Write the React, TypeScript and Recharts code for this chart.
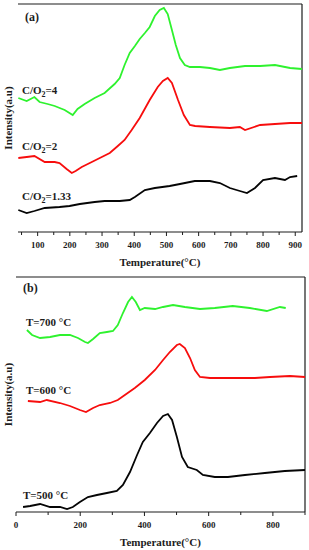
import { LineChart, Line, XAxis, YAxis, ReferenceLine } from 'recharts'

const FONT = '"Liberation Serif", "Times New Roman", Times, serif'
const INK = '#1c1c1c'
const GREEN = '#2ef22e'
const RED = '#f70d0d'
const BLACK = '#050505'

// panel (a): C/O2 ratio series
const ticksA = [50, 100, 150, 200, 250, 300, 350, 400, 450, 500, 550, 600, 650, 700, 750, 800, 850, 900]

const greenAT = [40, 66, 90, 106, 131, 153, 184, 209, 224, 246, 277, 308, 339, 355, 370, 386, 402, 417, 433, 448, 464, 479, 492, 504, 517, 529, 542, 557, 573, 604, 635, 666, 697, 744, 791, 837, 884, 921]
const greenAV = [134, 131, 135, 130, 128, 126, 122, 117, 123, 128, 134, 139, 148, 154, 167, 179, 186, 193, 199, 205, 216, 222, 224, 218, 202, 187, 174, 167, 165, 165, 164, 162, 164, 166, 166, 167, 164, 163]

const redAT = [40, 66, 90, 122, 153, 168, 190, 206, 218, 237, 262, 293, 324, 349, 370, 392, 417, 448, 473, 489, 504, 517, 536, 554, 573, 589, 635, 697, 728, 744, 791, 837, 884, 921]
const redAV = [74, 75, 76, 70, 70, 69, 63, 59, 61, 65, 69, 74, 79, 86, 92, 102, 114, 132, 145, 151, 154, 149, 132, 117, 107, 106, 105, 104, 105, 102, 107, 108, 109, 109]

const blackAT = [40, 66, 90, 122, 168, 199, 231, 277, 308, 355, 386, 402, 433, 464, 510, 542, 588, 635, 666, 697, 728, 750, 775, 800, 837, 868, 884, 906]
const blackAV = [22, 19, 21, 24, 25, 26, 28, 30, 31, 31, 32, 35, 42, 44, 46, 48, 51, 51, 49, 44, 41, 39, 44, 52, 54, 52, 55, 56]

// panel (b): reduction temperature series
const ticksB = [0, 100, 200, 300, 400, 500, 600, 700, 800, 900]

const greenBT = [34, 50, 75, 106, 137, 168, 193, 215, 224, 240, 261, 283, 302, 317, 333, 349, 361, 373, 386, 401, 433, 458, 489, 526, 573, 619, 675, 728, 781, 822, 840]
const greenBV = [182, 177, 174, 175, 177, 177, 174, 170, 169, 173, 179, 180, 181, 187, 199, 210, 215, 210, 202, 204, 203, 205, 207, 205, 203, 204, 206, 204, 201, 205, 204]

const redBT = [37, 75, 96, 137, 168, 199, 218, 240, 261, 293, 317, 339, 370, 401, 433, 458, 479, 501, 510, 526, 542, 557, 573, 604, 666, 744, 791, 853, 900]
const redBV = [111, 110, 112, 109, 106, 102, 100, 104, 107, 109, 112, 117, 124, 132, 142, 152, 160, 167, 168, 164, 154, 142, 135, 134, 134, 134, 135, 136, 135]

const blackBT = [22, 44, 75, 106, 137, 159, 177, 199, 224, 252, 283, 314, 333, 355, 377, 395, 417, 439, 458, 473, 486, 501, 517, 535, 563, 582, 619, 660, 713, 775, 837, 900]
const blackBV = [5, 6, 8, 5, 5, 3, 5, 10, 15, 17, 19, 21, 27, 40, 57, 70, 79, 89, 96, 98, 92, 75, 55, 45, 42, 37, 35, 35, 37, 39, 41, 42]

const toPoints = (t: number[], v: number[]) => t.map((x, i) => ({ t: x, v: v[i] }))

const bold = { fontFamily: FONT, fontWeight: 700 }

function AxisTick(props: any) {
  const { x, y, payload, every } = props
  const major = payload.value % every === 0
  return (
    <g>
      <line x1={x} y1={y} x2={x} y2={y + (major ? 4 : 3)} stroke={INK} strokeWidth={1} />
      {major && (
        <text x={x} y={y + 16} textAnchor="middle" style={bold} fontSize={9} fill={INK}>
          {payload.value}
        </text>
      )}
    </g>
  )
}

interface Series {
  name: string
  color: string
  data: { t: number; v: number }[]
}

interface PanelProps {
  height: number
  margin: { top: number; right: number; left: number; bottom: number }
  domain: [number, number]
  ticks: number[]
  every: number
  yMax: number
  series: Series[]
  children?: React.ReactNode
}

function Panel({ height, margin, domain, ticks, every, yMax, series, children }: PanelProps) {
  const plotMid = margin.top + (height - margin.top - 38) / 2
  return (
    <div style={{ position: 'relative', width: 309, height }}>
      <LineChart width={309} height={height} margin={margin}>
        <XAxis
          type="number"
          dataKey="t"
          domain={domain}
          ticks={ticks}
          interval={0}
          allowDataOverflow
          height={38}
          tickSize={0}
          tickMargin={0}
          axisLine={{ stroke: INK, strokeWidth: 1.2 }}
          tickLine={false}
          tick={(p: any) => <AxisTick {...p} every={every} />}
          label={{
            content: ({ viewBox }: any) => (
              <text
                x={viewBox.x + viewBox.width / 2}
                y={viewBox.y + 34}
                textAnchor="middle"
                style={bold}
                fontSize={11}
                fill={INK}
              >
                Temperature(°C)
              </text>
            ),
          }}
        />
        <YAxis
          type="number"
          domain={[0, yMax]}
          allowDataOverflow
          width={0}
          tick={false}
          tickLine={false}
          axisLine={{ stroke: INK, strokeWidth: 1.2 }}
        />
        <ReferenceLine x={domain[1]} stroke={INK} strokeWidth={1.2} />
        <ReferenceLine y={yMax} stroke={INK} strokeWidth={1.2} />
        {series.map((s) => (
          <Line
            key={s.name}
            data={s.data}
            dataKey="v"
            name={s.name}
            type="linear"
            stroke={s.color}
            strokeWidth={1.8}
            dot={false}
            isAnimationActive={false}
          />
        ))}
      </LineChart>
      <svg width={309} height={height} style={{ position: 'absolute', left: 0, top: 0, pointerEvents: 'none' }}>
        <g style={bold} fill={INK}>
          <text x={12} y={plotMid} transform={`rotate(-90 12 ${plotMid})`} textAnchor="middle" fontSize={11}>
            Intensity(a.u)
          </text>
          {children}
        </g>
      </svg>
    </div>
  )
}

function CoLabel({ x, y, ratio }: { x: number; y: number; ratio: string }) {
  return (
    <text x={x} y={y} fontSize={11}>
      C/O
      <tspan fontSize={8} dy={3}>2</tspan>
      <tspan dy={-3}>={ratio}</tspan>
    </text>
  )
}

export default function App() {
  const seriesA: Series[] = [
    { name: 'C/O2=4', color: GREEN, data: toPoints(greenAT, greenAV) },
    { name: 'C/O2=2', color: RED, data: toPoints(redAT, redAV) },
    { name: 'C/O2=1.33', color: BLACK, data: toPoints(blackAT, blackAV) },
  ]
  const seriesB: Series[] = [
    { name: 'T=700 °C', color: GREEN, data: toPoints(greenBT, greenBV) },
    { name: 'T=600 °C', color: RED, data: toPoints(redBT, redBV) },
    { name: 'T=500 °C', color: BLACK, data: toPoints(blackBT, blackBV) },
  ]

  return (
    <div style={{ position: 'absolute', left: 0, top: 0, width: 309, height: 550, background: '#fff' }}>
      <Panel
        height={270}
        margin={{ top: 4, right: 7, left: 18, bottom: 0 }}
        domain={[39, 921]}
        ticks={ticksA}
        every={100}
        yMax={228}
        series={seriesA}
      >
        <text x={25} y={21} fontSize={12}>(a)</text>
        <CoLabel x={22} y={94} ratio="4" />
        <CoLabel x={22} y={150} ratio="2" />
        <CoLabel x={22} y={200} ratio="1.33" />
      </Panel>
      <Panel
        height={280}
        margin={{ top: 7, right: 4, left: 16, bottom: 0 }}
        domain={[0, 900]}
        ticks={ticksB}
        every={200}
        yMax={235}
        series={seriesB}
      >
        <text x={23} y={22} fontSize={12}>(b)</text>
        <text x={26} y={56} fontSize={11}>T=700 °C</text>
        <text x={26} y={124} fontSize={11}>T=600 °C</text>
        <text x={23} y={229} fontSize={11}>T=500 °C</text>
      </Panel>
    </div>
  )
}
